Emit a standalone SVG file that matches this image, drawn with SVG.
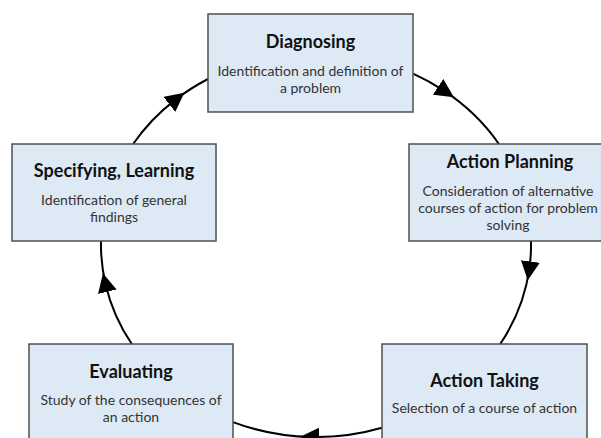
<svg xmlns="http://www.w3.org/2000/svg" width="601" height="438" viewBox="0 0 601 438">
<style>
.box{fill:#dde9f5;stroke:#4f4f4f;stroke-width:1.5}
.title{font-family:Lato,"Open Sans","Liberation Sans",sans-serif;font-weight:bold;font-size:18px;fill:#111;text-anchor:middle}
.body{font-family:Lato,"Open Sans","Liberation Sans",sans-serif;font-size:14px;fill:#333;text-anchor:middle}
.conn{fill:none;stroke:#000;stroke-width:2;marker-mid:url(#arrow)}
</style>
<defs>
<marker id="arrow" markerUnits="userSpaceOnUse" markerWidth="19" markerHeight="19" viewBox="0 0 19 19" refX="7" refY="9.5" orient="auto">
<path d="M0,0 L19,9.5 L0,19 z" fill="#000"/>
</marker>
</defs>
<g id="connectors">
<path class="conn" d="M413,73.7 A215,192 0 0,1 443.9,90.7 A215,192 0 0,1 498.9,144"/>
<path class="conn" d="M531,241 A215,192 0 0,1 529.4,268.4 A215,192 0 0,1 500.2,344"/>
<path class="conn" d="M382,427.7 A215,192 0 0,1 312.2,437 A215,192 0 0,1 233,422.1"/>
<path class="conn" d="M131.8,344 A215,192 0 0,1 105.7,284.9 A215,192 0 0,1 101,241"/>
<path class="conn" d="M133.1,144 A215,192 0 0,1 174.9,100.1 A215,192 0 0,1 208,79"/>
</g>
<g id="diagnosing">
<rect class="box" x="208" y="14" width="205" height="98"/>
<text class="title" x="310.5" y="48">Diagnosing</text>
<text class="body" x="310.5" y="76">Identification and definition of</text>
<text class="body" x="310.5" y="93">a problem</text>
</g>
<g id="action-planning">
<rect class="box" x="409" y="144" width="202" height="97"/>
<text class="title" x="510" y="168">Action Planning</text>
<text class="body" x="508" y="196">Consideration of alternative</text>
<text class="body" x="508" y="213">courses of action for problem</text>
<text class="body" x="508" y="230">solving</text>
</g>
<g id="specifying-learning">
<rect class="box" x="12" y="144" width="204" height="97"/>
<text class="title" x="114" y="177">Specifying, Learning</text>
<text class="body" x="114" y="205">Identification of general</text>
<text class="body" x="114" y="222">findings</text>
</g>
<g id="evaluating">
<rect class="box" x="29" y="344" width="204" height="110"/>
<text class="title" x="131" y="378">Evaluating</text>
<text class="body" x="131" y="405">Study of the consequences of</text>
<text class="body" x="131" y="422">an action</text>
</g>
<g id="action-taking">
<rect class="box" x="382" y="344" width="205" height="110"/>
<text class="title" x="484.5" y="387">Action Taking</text>
<text class="body" x="484.5" y="413">Selection of a course of action</text>
</g>
</svg>
